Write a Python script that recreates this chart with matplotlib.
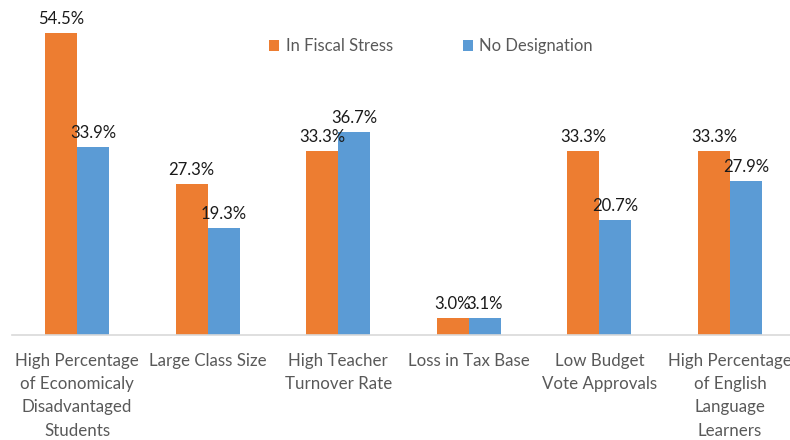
import matplotlib.pyplot as plt
import numpy as np

categories = [
    "High Percentage\nof Economicaly\nDisadvantaged\nStudents",
    "Large Class Size",
    "High Teacher\nTurnover Rate",
    "Loss in Tax Base",
    "Low Budget\nVote Approvals",
    "High Percentage\nof English\nLanguage\nLearners",
]
fiscal_stress = [54.5, 27.3, 33.3, 3.0, 33.3, 33.3]
no_designation = [33.9, 19.3, 36.7, 3.1, 20.7, 27.9]

plt.rcParams["font.family"] = ["Lato", "DejaVu Sans"]

fig = plt.figure(figsize=(7.9, 4.4), dpi=100)
ax = fig.add_axes([0.0148, 0.2386, 0.992, 0.7545])

x = np.arange(len(categories))
w = 0.245
b1 = ax.bar(x - w / 2, fiscal_stress, w, color="#ED7D31", label="In Fiscal Stress")
b2 = ax.bar(x + w / 2, no_designation, w, color="#5B9BD5", label="No Designation")

for bars, vals in ((b1, fiscal_stress), (b2, no_designation)):
    for bar, v in zip(bars, vals):
        ax.text(bar.get_x() + bar.get_width() / 2, v + 1.1, f"{v:.1f}%",
                ha="center", va="bottom", fontsize=12, color="#1a1a1a")

ax.set_xlim(-0.5, 5.5)
ax.set_ylim(0, 60)
ax.set_xticks(x)
ax.set_xticklabels(categories, fontsize=12.2, color="#595959", linespacing=1.55)
ax.tick_params(axis="x", length=0, pad=13)
ax.set_yticks([])
for s in ["top", "right", "left"]:
    ax.spines[s].set_visible(False)
ax.spines["bottom"].set_color("#D9D9D9")
ax.spines["bottom"].set_linewidth(1.2)

ax.legend(loc="center", bbox_to_anchor=(0.535, 0.87), ncol=2, frameon=False,
          fontsize=12, handlelength=0.6, handleheight=0.6, handletextpad=0.4,
          columnspacing=4.2, labelcolor="#595959")

fig.savefig("out.png", dpi=100)
